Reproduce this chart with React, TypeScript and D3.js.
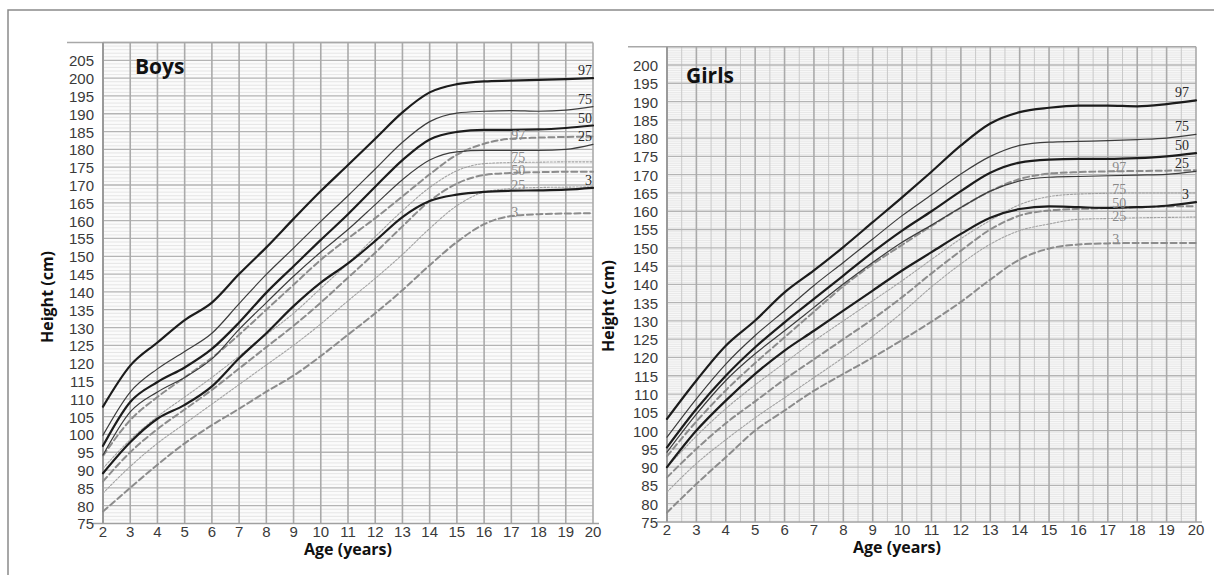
import * as d3 from 'd3';
import React, {useEffect, useRef} from 'react';

// ages on the x axis (years)
const ages = [2, 3, 4, 5, 6, 7, 8, 9, 10, 11, 12, 13, 14, 15, 16, 17, 18, 19, 20];
const percentileLabels = ['97', '75', '50', '25', '3'];

// Boys - study percentiles (solid)
const boys97 = [107.8, 119.3, 125.8, 132.1, 137, 145, 152.5, 160.5, 168.3, 175.6, 183, 190.4, 196, 198.3, 199.1, 199.3, 199.5, 199.7, 200];
const boys75 = [99.8, 111.9, 118.4, 123.3, 128.4, 136.7, 144.9, 152.3, 159.8, 167, 174.5, 182, 187.8, 190.2, 190.7, 190.9, 190.7, 191, 192];
const boys50 = [96.8, 109.1, 114.7, 118.8, 124, 131.4, 139.8, 147.2, 154.6, 161.8, 169.5, 177, 182.8, 184.9, 185.5, 185.5, 185.6, 186, 186.7];
const boys25 = [94.2, 106.3, 111.9, 116, 121.2, 129.5, 137, 144.4, 151.2, 157.5, 164.5, 171.5, 177, 179.3, 179.7, 179.7, 179.7, 180, 181.4];
const boys3 = [89.1, 97.8, 104.4, 108.3, 113.5, 121.4, 128.4, 136, 142.6, 148, 154.3, 161, 165.5, 167.3, 168.1, 168.4, 168.5, 168.7, 169.2];

// Boys - reference percentiles (grey dashed / dotted)
const boysRef97 = [94, 104, 110.5, 116, 121.5, 128, 135, 142, 149, 155, 160.7, 166.8, 173, 178.5, 181.6, 183, 183.3, 183.5, 183.6];
const boysRef75 = [90.5, 98.5, 105, 110.5, 116, 122, 128, 134, 141, 148, 155.5, 162.8, 169.3, 174, 176, 176.3, 176.4, 176.5, 176.5];
const boysRef50 = [86.8, 95, 101.5, 107, 112.5, 118.5, 124.5, 130.5, 137, 144, 151, 158.4, 165.5, 170.4, 172.8, 173.4, 173.6, 173.7, 173.7];
const boysRef25 = [83.5, 91, 97.5, 103, 108.5, 114, 119.5, 125, 131, 137.5, 143.8, 150.5, 157.8, 164.2, 168, 169, 169.3, 169.4, 169.5];
const boysRef3 = [78.4, 85, 91.5, 97.5, 102.6, 107.2, 112, 116.5, 122, 128, 134, 140.5, 147.5, 154, 159, 161.3, 161.8, 162, 162.1];

// Girls - study percentiles (solid)
const girls97 = [103.2, 113.7, 123.2, 130.1, 137.8, 143.8, 150.2, 157, 163.8, 170.8, 178, 184, 187.1, 188.3, 188.9, 188.9, 188.7, 189.3, 190.3];
const girls75 = [98.2, 108.7, 118.2, 126, 132.8, 139.7, 146, 152.4, 158.8, 164.5, 170.2, 175, 178, 178.9, 179.1, 179.3, 179.6, 180, 181];
const girls50 = [95.4, 105.9, 115, 122.8, 129.6, 136, 142.4, 148.8, 154.7, 160, 165.5, 170.5, 173.3, 174.1, 174.3, 174.3, 174.5, 175, 175.9];
const girls25 = [94.1, 104.5, 113.7, 121, 127.3, 133.7, 140.1, 146, 151.5, 156.2, 161, 165.5, 168.3, 169.3, 169.5, 169.7, 169.9, 170.1, 170.9];
const girls3 = [90, 100, 108.2, 115.5, 121.9, 127.3, 132.8, 138.3, 143.8, 148.8, 153.8, 158.2, 160.6, 161.3, 161.1, 160.9, 161.1, 161.5, 162.5];

// Girls - reference percentiles (grey dashed / dotted)
const girlsRef97 = [93, 102.5, 111, 118.5, 125.5, 132.5, 139.5, 145.5, 150.8, 156, 161, 165.5, 168.8, 170.3, 170.7, 170.9, 171, 171.1, 171.2];
const girlsRef75 = [90, 98.5, 106, 112.5, 118.5, 124.5, 130, 135.5, 141, 146.8, 152.5, 157.5, 161.8, 164, 164.7, 164.9, 165, 165, 165];
const girlsRef50 = [87.2, 95, 102, 108, 114, 119.5, 125, 130.5, 136.5, 143, 149.2, 155, 158.8, 160.2, 160.6, 160.9, 161.1, 161.3, 161.4];
const girlsRef25 = [83.2, 91, 97.5, 103.5, 109, 114.5, 120, 125.8, 132.3, 139.3, 145.6, 151, 154.7, 156.5, 157.8, 158, 158.2, 158.3, 158.4];
const girlsRef3 = [77.6, 85.4, 92.7, 100, 105.5, 110.9, 115.5, 120, 124.8, 129.8, 135.2, 141.3, 146.8, 149.8, 150.9, 151.2, 151.3, 151.3, 151.3];

const kinds = ['bold', 'thin', 'bold', 'thin', 'bold'];
const refKinds = ['dash', 'dot', 'dash', 'dot', 'dash'];

const styles = {
  bold: {stroke: '#1c1c1c', width: 2.2, dash: null},
  thin: {stroke: '#3c3c3c', width: 1.2, dash: null},
  dash: {stroke: '#8c8c8c', width: 2, dash: '6 3.5'},
  dot: {stroke: '#a2a2a2', width: 1.1, dash: '2 1.6'}
};

// keep grey labels from running into each other
function spreadLabels(ys, gap) {
  var out = ys.slice();
  for (var k = 0; k < 20; k++) {
    for (var i = 1; i < out.length; i++) {
      var d = out[i] - out[i - 1];
      if (d < gap) {
        out[i - 1] -= (gap - d) / 2;
        out[i] += (gap - d) / 2;
      }
    }
  }
  return out;
}

function drawPanel(svg, cfg) {
  var x = d3.scaleLinear().domain([2, 20]).range([cfg.left, cfg.right]);
  var y = d3.scaleLinear().domain([75, cfg.yMax]).range([cfg.bottom, cfg.top]);
  var g = svg.append('g');

  g.append('rect')
      .attr('x', cfg.left).attr('y', cfg.top)
      .attr('width', cfg.right - cfg.left).attr('height', cfg.bottom - cfg.top)
      .attr('fill', '#fbfbfb');

  // fine horizontal lines
  var minor = d3.range(75 + cfg.minorStep, cfg.yMax, cfg.minorStep)
                  .filter(v => Math.abs(v / 5 - Math.round(v / 5)) > 0.01);
  g.selectAll('line.hminor').data(minor).enter().append('line')
      .attr('x1', cfg.left).attr('x2', cfg.right)
      .attr('y1', d => y(d)).attr('y2', d => y(d))
      .attr('stroke', cfg.minorColor).attr('stroke-width', 0.7);

  if (cfg.halfYears) {
    g.selectAll('line.vminor').data(d3.range(2.5, 20, 1)).enter().append('line')
        .attr('x1', d => x(d)).attr('x2', d => x(d))
        .attr('y1', cfg.top).attr('y2', cfg.bottom)
        .attr('stroke', '#c9c9c9').attr('stroke-width', 1);
  }

  g.selectAll('line.hmajor').data(d3.range(80, cfg.yMax + 0.1, 5)).enter().append('line')
      .attr('x1', cfg.left).attr('x2', cfg.right)
      .attr('y1', d => y(d)).attr('y2', d => y(d))
      .attr('stroke', '#b4b4b4').attr('stroke-width', 1.3);

  g.selectAll('line.vmajor').data(ages.slice(1)).enter().append('line')
      .attr('x1', d => x(d)).attr('x2', d => x(d))
      .attr('y1', cfg.top).attr('y2', cfg.bottom)
      .attr('stroke', '#aaaaaa').attr('stroke-width', 1.6);

  // frame of the original chart
  g.append('line').attr('x1', cfg.frameLeft).attr('x2', cfg.right)
      .attr('y1', cfg.top).attr('y2', cfg.top)
      .attr('stroke', '#a8a8a8').attr('stroke-width', 1.5);
  g.append('line').attr('x1', cfg.left).attr('x2', cfg.left)
      .attr('y1', cfg.top).attr('y2', cfg.bottom)
      .attr('stroke', '#9a9a9a').attr('stroke-width', 2);
  g.append('line').attr('x1', cfg.left - 10).attr('x2', cfg.right + 6)
      .attr('y1', cfg.bottom).attr('y2', cfg.bottom)
      .attr('stroke', '#a0a0a0').attr('stroke-width', 1.5);

  // tick labels
  g.selectAll('text.ytick').data(d3.range(75, cfg.yTickMax + 1, 5)).enter().append('text')
      .attr('x', cfg.left - 9).attr('y', d => y(d) + 2)
      .attr('text-anchor', 'end').attr('dominant-baseline', 'middle')
      .attr('font-family', 'Liberation Sans, Arial, sans-serif').attr('font-size', 15)
      .attr('fill', '#3a3a3a')
      .text(d => d);

  g.selectAll('text.xtick').data(ages).enter().append('text')
      .attr('x', d => x(d)).attr('y', cfg.bottom + 13)
      .attr('text-anchor', 'middle')
      .attr('font-family', 'Liberation Sans, Arial, sans-serif').attr('font-size', 15)
      .attr('fill', '#3a3a3a')
      .text(d => d);

  // curves
  var line = d3.line().x((d, i) => x(ages[i])).y(d => y(d)).curve(d3.curveMonotoneX);
  var all = cfg.refSeries.map((s, i) => ({values: s, kind: refKinds[i]}))
                .concat(cfg.series.map((s, i) => ({values: s, kind: kinds[i]})));

  all.forEach(function(s) {
    var st = styles[s.kind];
    g.append('path')
        .attr('d', line(s.values))
        .attr('fill', 'none')
        .attr('stroke', st.stroke)
        .attr('stroke-width', st.width)
        .attr('stroke-dasharray', st.dash)
        .attr('stroke-linecap', 'round');
  });

  // percentile labels
  var solidY = spreadLabels(cfg.series.map(s => y(s[s.length - 1]) - 3), 14);
  cfg.series.forEach(function(s, i) {
    g.append('text')
        .attr('x', cfg.right - cfg.labelPad).attr('y', solidY[i])
        .attr('text-anchor', 'end')
        .attr('font-family', 'Liberation Serif, Times New Roman, serif').attr('font-size', 14)
        .attr('fill', '#2a2a2a')
        .text(percentileLabels[i]);
  });
  var refY = spreadLabels(cfg.refSeries.map(s => y(s[15]) + 1), 13);
  cfg.refSeries.forEach(function(s, i) {
    g.append('text')
        .attr('x', x(cfg.refLabelAge)).attr('y', refY[i])
        .attr('font-family', 'Liberation Serif, Times New Roman, serif').attr('font-size', 14)
        .attr('fill', '#8a8a8a')
        .text(percentileLabels[i]);
  });

  // titles
  g.append('text')
      .attr('x', cfg.nameX).attr('y', cfg.nameY)
      .attr('font-family', 'Open Sans, Noto Sans, sans-serif').attr('font-weight', 'bold')
      .attr('font-size', 21).attr('fill', '#111')
      .text(cfg.name);

  g.append('text')
      .attr('x', cfg.xTitleX).attr('y', cfg.bottom + 31)
      .attr('text-anchor', 'middle')
      .attr('font-family', 'Open Sans, Noto Sans, sans-serif').attr('font-weight', 'bold')
      .attr('font-size', 16).attr('fill', '#111')
      .text('Age (years)');

  g.append('text')
      .attr('transform', 'translate(' + cfg.yTitleX + ',' + cfg.yTitleY + ') rotate(-90)')
      .attr('text-anchor', 'middle')
      .attr('font-family', 'Open Sans, Noto Sans, sans-serif').attr('font-weight', 'bold')
      .attr('font-size', 16).attr('fill', '#111')
      .text('Height (cm)');
}

export default function App() {
  const ref = useRef(null);

  useEffect(() => {
    var svg = d3.select(ref.current);
    svg.selectAll('*').remove();

    svg.append('rect').attr('width', 1214).attr('height', 575).attr('fill', '#fff');
    svg.append('path').attr('d', 'M8,575 L8,10 L1214,10')
        .attr('fill', 'none').attr('stroke', '#8a8a8a').attr('stroke-width', 1.5);

    drawPanel(svg, {
      name: 'Boys', nameX: 135, nameY: 74,
      left: 103, right: 593, top: 42.5, bottom: 523.5, yMax: 210, yTickMax: 205,
      frameLeft: 67, minorStep: 1, minorColor: '#dcdcdc', halfYears: false, labelPad: 1, refLabelAge: 17,
      xTitleX: 348, yTitleX: 53, yTitleY: 297,
      series: [boys97, boys75, boys50, boys25, boys3],
      refSeries: [boysRef97, boysRef75, boysRef50, boysRef25, boysRef3]
    });

    drawPanel(svg, {
      name: 'Girls', nameX: 686, nameY: 83,
      left: 667, right: 1196, top: 46.7, bottom: 522, yMax: 205, yTickMax: 200,
      frameLeft: 628, minorStep: 0.5, minorColor: '#e0e0e0', halfYears: true, labelPad: 7, refLabelAge: 17.15,
      xTitleX: 897, yTitleX: 614, yTitleY: 306,
      series: [girls97, girls75, girls50, girls25, girls3],
      refSeries: [girlsRef97, girlsRef75, girlsRef50, girlsRef25, girlsRef3]
    });
  }, []);

  return (
    <svg ref={ref} width={1214} height={575}
         style={{position: 'absolute', left: 0, top: 0, display: 'block'}} />
  );
}
